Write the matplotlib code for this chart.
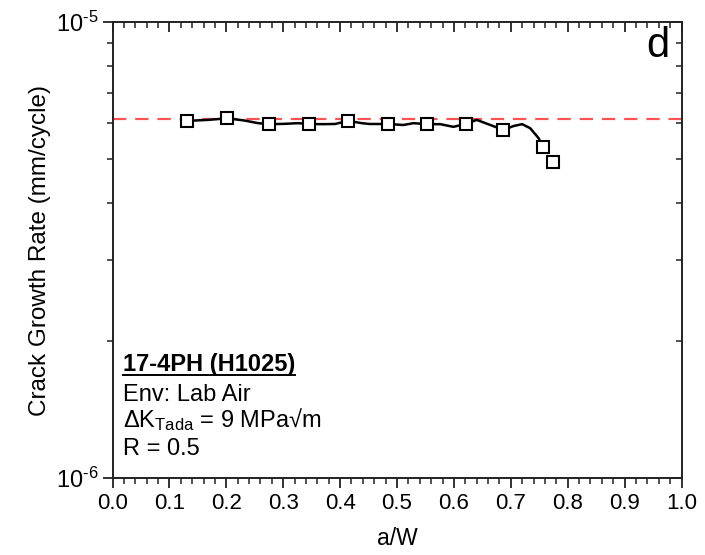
import numpy as np
import matplotlib
matplotlib.use("Agg")
import matplotlib.pyplot as plt
from matplotlib.ticker import MultipleLocator, LogLocator, FixedLocator, FixedFormatter, NullFormatter

plt.rcParams['font.family'] = ['Liberation Sans', 'DejaVu Sans']
plt.rcParams['mathtext.fontset'] = 'custom'
plt.rcParams['mathtext.rm'] = 'Liberation Sans'
plt.rcParams['mathtext.it'] = 'Liberation Sans:italic'
plt.rcParams['mathtext.bf'] = 'Liberation Sans:bold'
plt.rcParams['axes.unicode_minus'] = False

# Data (a/W, crack growth rate in mm/cycle)
marker_aw = [0.131, 0.202, 0.275, 0.345, 0.414, 0.484, 0.552, 0.621, 0.687, 0.756, 0.775]
marker_rate = [6.07e-6, 6.15e-6, 5.97e-6, 5.975e-6, 6.07e-6, 5.975e-6, 5.97e-6, 5.975e-6,
               5.80e-6, 5.31e-6, 4.94e-6]

curve_aw = [0.131, 0.168, 0.202, 0.232, 0.256, 0.275, 0.303, 0.326, 0.345, 0.367, 0.391,
            0.414, 0.438, 0.452, 0.484, 0.511, 0.529, 0.552, 0.576, 0.599, 0.621, 0.640,
            0.664, 0.687, 0.705, 0.720, 0.734, 0.749, 0.756]
curve_rate = [6.07e-6, 6.10e-6, 6.15e-6, 6.08e-6, 6.00e-6, 5.97e-6, 5.98e-6, 6.00e-6,
              5.975e-6, 5.97e-6, 5.975e-6, 6.07e-6, 6.00e-6, 5.975e-6, 5.975e-6, 5.945e-6,
              6.00e-6, 5.97e-6, 5.97e-6, 5.89e-6, 5.975e-6, 6.10e-6, 5.945e-6, 5.80e-6,
              5.915e-6, 5.97e-6, 5.85e-6, 5.56e-6, 5.31e-6]

target_rate = 6.14e-6

x_ticks = [0.0, 0.1, 0.2, 0.3, 0.4, 0.5, 0.6, 0.7, 0.8, 0.9, 1.0]
x_ticklabels = ['0.0', '0.1', '0.2', '0.3', '0.4', '0.5', '0.6', '0.7', '0.8', '0.9', '1.0']
y_ticks = [1e-6, 1e-5]
y_ticklabels = [r'10$^{\text{-}6}$', r'10$^{\text{-}5}$']

info_title = '17-4PH (H1025)'
info_lines = ['Env: Lab Air', r'$\Delta$K$_{\mathrm{Tada}}$ = 9 MPa√m', 'R = 0.5']
panel_label = 'd'

fig = plt.figure(figsize=(7.05, 5.55), dpi=100)
pos = [112.5 / 705, (555 - 478) / 555, 569 / 705, 456 / 555]
ax = fig.add_axes(pos)

ax.set_yscale('log')
ax.set_xlim(0, 1.0)
ax.set_ylim(1e-6, 1e-5)

ax.axhline(target_rate, color='#ff5252', lw=1.6, dashes=(6, 4), zorder=2)
ax.plot(curve_aw, curve_rate, color='black', lw=1.8, zorder=3)
ax.plot(marker_aw, marker_rate, ls='none', marker='s', ms=8.5, mfc='white',
        mec='black', mew=1.5, zorder=4)

ax.xaxis.set_major_locator(FixedLocator(x_ticks))
ax.xaxis.set_major_formatter(FixedFormatter(x_ticklabels))
ax.xaxis.set_minor_locator(MultipleLocator(0.02))
ax.yaxis.set_major_locator(FixedLocator(y_ticks))
ax.yaxis.set_major_formatter(FixedFormatter(y_ticklabels))
ax.yaxis.set_minor_locator(LogLocator(base=10, subs=np.arange(2, 10)))
ax.yaxis.set_minor_formatter(NullFormatter())

for s in ax.spines.values():
    s.set_linewidth(1.4)
    s.set_color('#222222')

ax.tick_params(which='major', direction='out', length=7, width=1.3, color='#222222',
               labelsize=16, pad=4)
ax.tick_params(which='minor', direction='out', length=4, width=1.1, color='#222222')
ax.tick_params(axis='y', which='major', labelsize=17, pad=3)

# mirrored inward ticks on top/right
ax2 = fig.add_axes(pos, sharex=ax, sharey=ax, frameon=False)
ax2.patch.set_visible(False)
ax2.xaxis.tick_top()
ax2.yaxis.tick_right()
ax2.tick_params(which='major', direction='in', length=7, width=1.3, color='#222222',
                labeltop=False, labelright=False, labelbottom=False, labelleft=False)
ax2.tick_params(which='minor', direction='in', length=4, width=1.1, color='#222222')

ax.set_xlabel('a/W', fontsize=16.5, labelpad=9)
ax.set_ylabel('Crack Growth Rate (mm/cycle)', fontsize=17.5, labelpad=4)

# info text
tx = 0.018
t1 = ax.text(tx, 0.2346, info_title, transform=ax.transAxes, fontsize=17,
             fontweight='bold', va='baseline', ha='left', zorder=5)
ys = [0.1689, 0.1118, 0.0504]
for line, yy in zip(info_lines, ys):
    ax.text(tx, yy, line, transform=ax.transAxes, fontsize=17, va='baseline',
            ha='left', zorder=5)

ax.text(0.958, 0.948, panel_label, transform=ax.transAxes, fontsize=30,
        va='center', ha='center')

fig.canvas.draw()
bb = t1.get_window_extent(renderer=fig.canvas.get_renderer())
inv = ax.transAxes.inverted()
(x0, y0), (x1, y1) = inv.transform([(bb.x0, bb.y0), (bb.x1, bb.y0)])
uy = 0.2346 - 4.0 / 456
ax.plot([x0, x1], [uy, uy], transform=ax.transAxes, color='black', lw=1.4,
        clip_on=False, zorder=5)

fig.savefig('out.png', dpi=100)
